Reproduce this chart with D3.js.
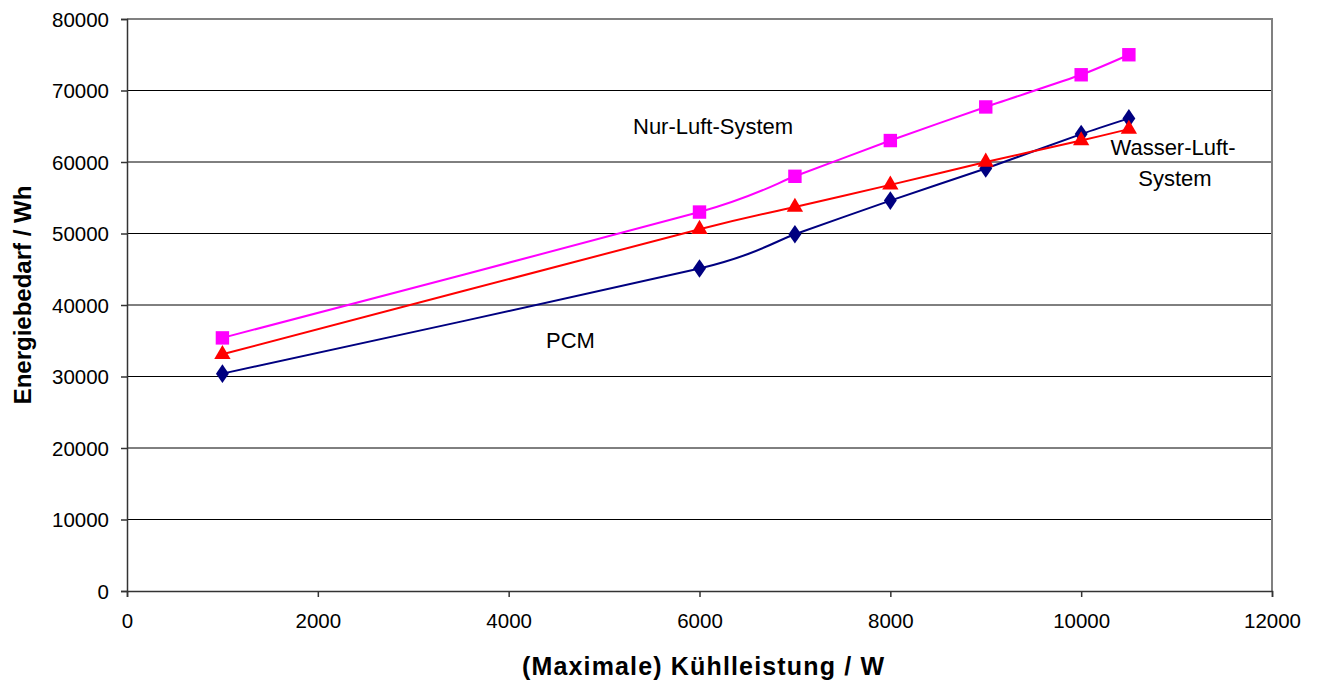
<!DOCTYPE html>
<html>
<head>
<meta charset="utf-8">
<script src="https://cdn.jsdelivr.net/npm/d3@7"></script>
<style>
  body { margin: 0; background: #fff; }
  svg { display: block; font-family: "Liberation Sans", Arial, sans-serif; }
</style>
</head>
<body>
<svg width="1320" height="682"></svg>
<script>
// data
var leistung = [1000, 6000, 7000, 8000, 9000, 10000, 10500];
var pcm = [30400, 45100, 49900, 54600, 59100, 63900, 66100];
var wasserLuft = [33100, 50600, 53700, 56800, 60000, 63000, 64600];
var nurLuft = [35400, 53000, 58000, 63000, 67700, 72200, 75000];
var xTicks = [0, 2000, 4000, 6000, 8000, 10000, 12000];
var yTicks = [0, 10000, 20000, 30000, 40000, 50000, 60000, 70000, 80000];

var svg = d3.select("svg");
var plotLeft = 127, plotTop = 19, plotRight = 1272, plotBottom = 591;

var x = d3.scaleLinear().domain([0, 12000]).range([plotLeft, plotRight]);
var y = d3.scaleLinear().domain([0, 80000]).range([plotBottom, plotTop]);

// gridlines
svg.append("g")
  .selectAll("line")
  .data(yTicks.slice(1, -1))
  .enter().append("line")
  .attr("x1", plotLeft).attr("x2", plotRight)
  .attr("y1", function (d) { return y(d); })
  .attr("y2", function (d) { return y(d); })
  .style("stroke", "#000")
  .style("stroke-width", 1);

// plot frame (top and right in gray)
svg.append("path")
  .attr("d", "M" + plotLeft + "," + y(80000) + "H" + plotRight + "V" + plotBottom)
  .style("fill", "none")
  .style("stroke", "#808080")
  .style("stroke-width", 2);

// axes
var xAxis = svg.append("g")
  .attr("transform", "translate(0," + plotBottom + ")")
  .call(d3.axisBottom(x).tickValues(xTicks).tickSize(6).tickPadding(16).tickFormat(d3.format("d")));
var yAxis = svg.append("g")
  .attr("transform", "translate(" + plotLeft + ",0)")
  .call(d3.axisLeft(y).tickValues(yTicks).tickSize(6).tickPadding(12).tickFormat(d3.format("d")));

[xAxis, yAxis].forEach(function (a) {
  a.select(".domain").style("stroke", "#333").style("stroke-width", 1.5);
  a.selectAll(".tick line").style("stroke", "#333").style("stroke-width", 1.5);
  a.selectAll("text")
    .style("font-family", "Liberation Sans, Arial, sans-serif")
    .style("font-size", "20.5px")
    .style("fill", "#000");
});
yAxis.selectAll("text").attr("dy", "0.36em");

// series
var series = [
  { name: "PCM", values: pcm, color: "#000080", symbol: d3.symbolDiamond, size: 100 },
  { name: "Wasser-Luft-System", values: wasserLuft, color: "#ff0000", symbol: d3.symbolTriangle, size: 115 },
  { name: "Nur-Luft-System", values: nurLuft, color: "#ff00ff", symbol: d3.symbolSquare, size: 180 }
];

// smoothed lines like the spreadsheet
var line = d3.line()
  .x(function (d) { return x(d[0]); })
  .y(function (d) { return y(d[1]); })
  .curve(d3.curveCardinal.tension(0.4));

series.forEach(function (s) {
  var pts = leistung.map(function (v, i) { return [v, s.values[i]]; });
  svg.append("path")
    .datum(pts)
    .attr("d", line)
    .style("fill", "none")
    .style("stroke", s.color)
    .style("stroke-width", 2);
  svg.append("g")
    .selectAll("path")
    .data(pts)
    .enter().append("path")
    .attr("d", d3.symbol().type(s.symbol).size(s.size))
    .attr("transform", function (d) {
      var sx = s.symbol === d3.symbolDiamond ? "scale(1.2,1)" : "";
      return "translate(" + x(d[0]) + "," + y(d[1]) + ")" + sx;
    })
    .style("fill", s.color);
});

// annotations
var ann = svg.append("g")
  .style("font-size", "22px")
  .style("fill", "#000");
ann.append("text").attr("x", 633).attr("y", 134).text("Nur-Luft-System");
ann.append("text").attr("x", 546).attr("y", 348).text("PCM");
ann.append("text").attr("x", 1173).attr("y", 155).attr("text-anchor", "middle").text("Wasser-Luft-");
ann.append("text").attr("x", 1175).attr("y", 186).attr("text-anchor", "middle").text("System");

// axis titles
svg.append("text")
  .attr("x", 703).attr("y", 675)
  .attr("text-anchor", "middle")
  .attr("textLength", 362)
  .attr("lengthAdjust", "spacing")
  .style("font-size", "25px")
  .style("font-weight", "bold")
  .text("(Maximale) Kühlleistung / W");

svg.append("text")
  .attr("transform", "translate(31,295) rotate(-90)")
  .attr("text-anchor", "middle")
  .style("font-size", "24px")
  .style("font-weight", "bold")
  .text("Energiebedarf / Wh");
</script>
</body>
</html>
